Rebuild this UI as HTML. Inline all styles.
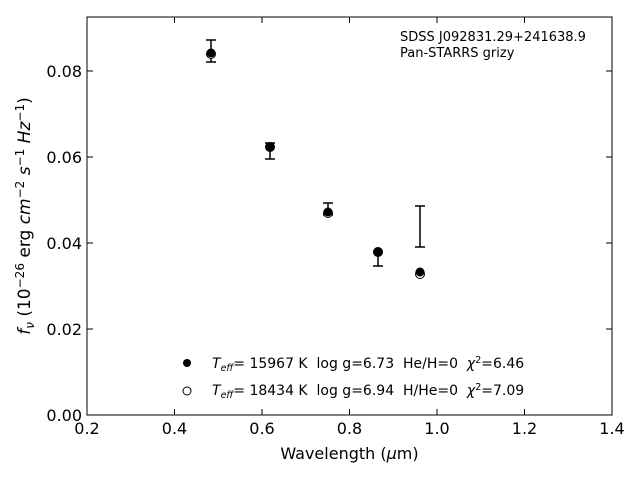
<!DOCTYPE html>
<html><head><style>body{margin:0;background:#fff}text{white-space:pre}</style></head><body>
<svg width="640" height="480" xmlns="http://www.w3.org/2000/svg" font-family="DejaVu Sans, Liberation Sans, sans-serif">
<rect width="640" height="480" fill="#fff"/>
<rect x="87" y="17" width="525" height="398" fill="none" stroke="#000" stroke-width="1"/>
<g stroke="#000" stroke-width="1">
<line x1="174.5" y1="415" x2="174.5" y2="409"/><line x1="262" y1="415" x2="262" y2="409"/><line x1="349.5" y1="415" x2="349.5" y2="409"/><line x1="437" y1="415" x2="437" y2="409"/><line x1="524.5" y1="415" x2="524.5" y2="409"/>
<line x1="174.5" y1="17" x2="174.5" y2="23"/><line x1="262" y1="17" x2="262" y2="23"/><line x1="349.5" y1="17" x2="349.5" y2="23"/><line x1="437" y1="17" x2="437" y2="23"/><line x1="524.5" y1="17" x2="524.5" y2="23"/>
<line x1="87" y1="329" x2="93" y2="329"/><line x1="87" y1="243" x2="93" y2="243"/><line x1="87" y1="157" x2="93" y2="157"/><line x1="87" y1="71" x2="93" y2="71"/>
<line x1="612" y1="329" x2="606" y2="329"/><line x1="612" y1="243" x2="606" y2="243"/><line x1="612" y1="157" x2="606" y2="157"/><line x1="612" y1="71" x2="606" y2="71"/>
</g>
<g font-size="16" text-anchor="middle" fill="#000">
<text x="87" y="434">0.2</text><text x="174.5" y="434">0.4</text><text x="262" y="434">0.6</text><text x="349.5" y="434">0.8</text><text x="437" y="434">1.0</text><text x="524.5" y="434">1.2</text><text x="612" y="434">1.4</text>
</g>
<g font-size="16" text-anchor="end" fill="#000">
<text x="82" y="421">0.00</text><text x="82" y="335">0.02</text><text x="82" y="249">0.04</text><text x="82" y="163">0.06</text><text x="82" y="77">0.08</text>
</g>
<text x="349.5" y="459" font-size="16" text-anchor="middle">Wavelength (<tspan font-style="italic">μ</tspan>m)</text>
<text transform="translate(30,216) rotate(-90)" font-size="17" text-anchor="middle"><tspan font-style="italic">f<tspan font-size="12" dy="4">ν</tspan></tspan><tspan dy="-4"> (10</tspan><tspan font-size="12" dy="-6">−26</tspan><tspan dy="6"> erg </tspan><tspan font-style="italic">cm</tspan><tspan font-size="12" dy="-6">−2</tspan><tspan dy="6" font-style="italic"> s</tspan><tspan font-size="12" dy="-6">−1</tspan><tspan dy="6" font-style="italic"> Hz</tspan><tspan font-size="12" dy="-6">−1</tspan><tspan dy="6">)</tspan></text>
<text x="400" y="41" font-size="13">SDSS J092831.29+241638.9</text>
<text x="400" y="57" font-size="13">Pan-STARRS grizy</text>
<g stroke="#000" stroke-width="1.5" fill="none">
<path d="M211 40V62M206 40H216M206 62H216"/>
<path d="M270 143V159M265 143H275M265 159H275"/>
<path d="M328 203V215M323 203H333M323 215H333"/>
<path d="M378 252V266M373 252H383M373 266H383"/>
<path d="M420 206V247M415 206H425M415 247H425"/>
</g>
<g fill="#fff" stroke="#000">
<circle cx="211" cy="54" r="4.5"/><circle cx="270" cy="147" r="4.5"/><circle cx="328" cy="213" r="4.5"/><circle cx="378" cy="252" r="4.5"/><circle cx="420" cy="274" r="4.5"/>
</g>
<g fill="#000">
<circle cx="211" cy="53" r="4.5"/><circle cx="270" cy="147" r="4.5"/><circle cx="328" cy="212" r="4.5"/><circle cx="378" cy="252" r="4.5"/><circle cx="420" cy="272" r="4.5"/>
</g>
<circle cx="187" cy="363" r="4" fill="#000"/>
<circle cx="187" cy="391" r="4" fill="#fff" stroke="#000"/>
<text x="212" y="368" font-size="14" xml:space="preserve"><tspan font-style="italic">T</tspan><tspan font-size="9.5" dy="3" font-style="italic">eff</tspan><tspan dy="-3">= 15967 K  log g=6.73  He/H=0  </tspan><tspan font-style="italic">χ</tspan><tspan font-size="9.5" dy="-5">2</tspan><tspan dy="5">=6.46</tspan></text>
<text x="212" y="395" font-size="14" xml:space="preserve"><tspan font-style="italic">T</tspan><tspan font-size="9.5" dy="3" font-style="italic">eff</tspan><tspan dy="-3">= 18434 K  log g=6.94  H/He=0  </tspan><tspan font-style="italic">χ</tspan><tspan font-size="9.5" dy="-5">2</tspan><tspan dy="5">=7.09</tspan></text>
</svg>
</body></html>
